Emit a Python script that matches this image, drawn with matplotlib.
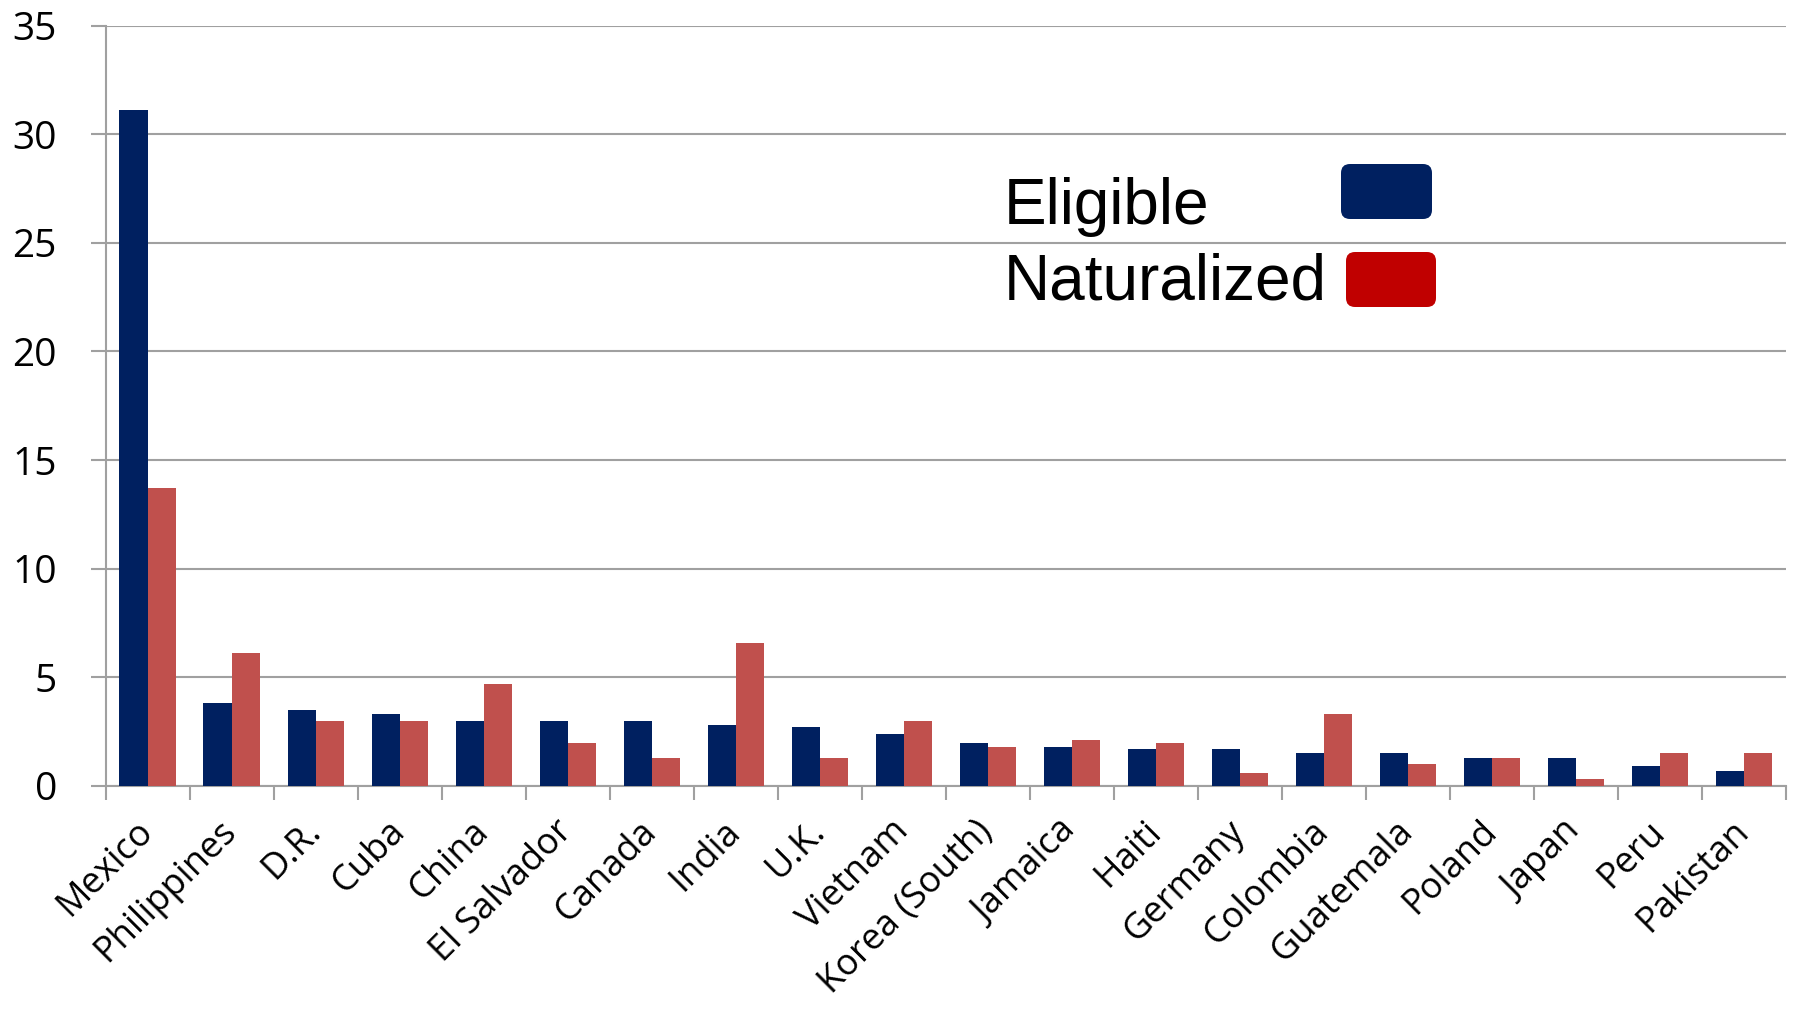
import numpy as np
import matplotlib
matplotlib.use("Agg")
import matplotlib.pyplot as plt
from matplotlib.patches import FancyBboxPatch
from matplotlib.transforms import IdentityTransform

countries = ["Mexico", "Philippines", "D.R.", "Cuba", "China", "El Salvador",
             "Canada", "India", "U.K.", "Vietnam", "Korea (South)", "Jamaica",
             "Haiti", "Germany", "Colombia", "Guatemala", "Poland", "Japan",
             "Peru", "Pakistan"]
eligible = [31.1, 3.8, 3.5, 3.3, 3.0, 3.0, 3.0, 2.8, 2.7, 2.4, 2.0, 1.8,
            1.7, 1.7, 1.5, 1.5, 1.3, 1.3, 0.9, 0.7]
naturalized = [13.7, 6.1, 3.0, 3.0, 4.7, 2.0, 1.3, 6.6, 1.3, 3.0, 1.8, 2.1,
               2.0, 0.6, 3.3, 1.0, 1.3, 0.3, 1.5, 1.5]
yticks = [0, 5, 10, 15, 20, 25, 30, 35]

navy = "#002060"
brick = "#C0504D"
legend_red = "#C00000"
grey = "#A0A0A0"

W, H = 1799, 1010
fig = plt.figure(figsize=(W / 100, H / 100), dpi=100)
ax = fig.add_axes([105.6 / W, 1 - 786 / H, (1786 - 105.6) / W, (786 - 25.5) / H])

x = np.arange(len(countries))
bw = 0.335
ax.bar(x - bw / 2, eligible, bw, color=navy, zorder=3)
ax.bar(x + bw / 2, naturalized, bw, color=brick, zorder=3)

ax.set_xlim(-0.5, len(countries) - 0.5)
ax.set_ylim(0, 35)
ax.set_yticks(yticks)
ax.yaxis.grid(True, color=grey, linewidth=1.5, zorder=0)
ax.set_axisbelow(True)

for s in ["top", "right"]:
    ax.spines[s].set_visible(False)
for s in ["left", "bottom"]:
    ax.spines[s].set_color(grey)
    ax.spines[s].set_linewidth(1.5)

# category separators on the x axis, labels placed at the centres
ax.set_xticks(np.arange(len(countries) + 1) - 0.5)
ax.set_xticklabels([])
ax.set_xticks(x, minor=True)
ax.set_xticklabels(countries, minor=True, rotation=45, ha="right", va="center",
                   rotation_mode="anchor", fontsize=26, family="Open Sans")
ax.tick_params(axis="x", which="major", length=10, width=1.5, color=grey)
ax.tick_params(axis="x", which="minor", length=0, pad=29)
ax.tick_params(axis="y", length=11, width=1.5, color=grey, pad=24,
               labelsize=28)
for lbl in ax.get_yticklabels():
    lbl.set_family("Open Sans")

# legend drawn by hand: labels on the left, rounded swatches on the right
fig.text(1004 / W, 1 - 224 / H, "Eligible", fontsize=46,
         family="Liberation Sans", va="baseline", ha="left")
fig.text(1004 / W, 1 - 299 / H, "Naturalized", fontsize=46,
         family="Liberation Sans", va="baseline", ha="left")
for (x0, ytop, w, h, c) in [(1341, 164, 91, 55, navy), (1346, 252, 90, 55, legend_red)]:
    r = 9
    p = FancyBboxPatch((x0 + r, H - ytop - h + r), w - 2 * r, h - 2 * r,
                       boxstyle=f"round,pad={r}", transform=IdentityTransform(),
                       facecolor=c, edgecolor="none")
    fig.patches.append(p)

fig.savefig("out.png", dpi=100)
